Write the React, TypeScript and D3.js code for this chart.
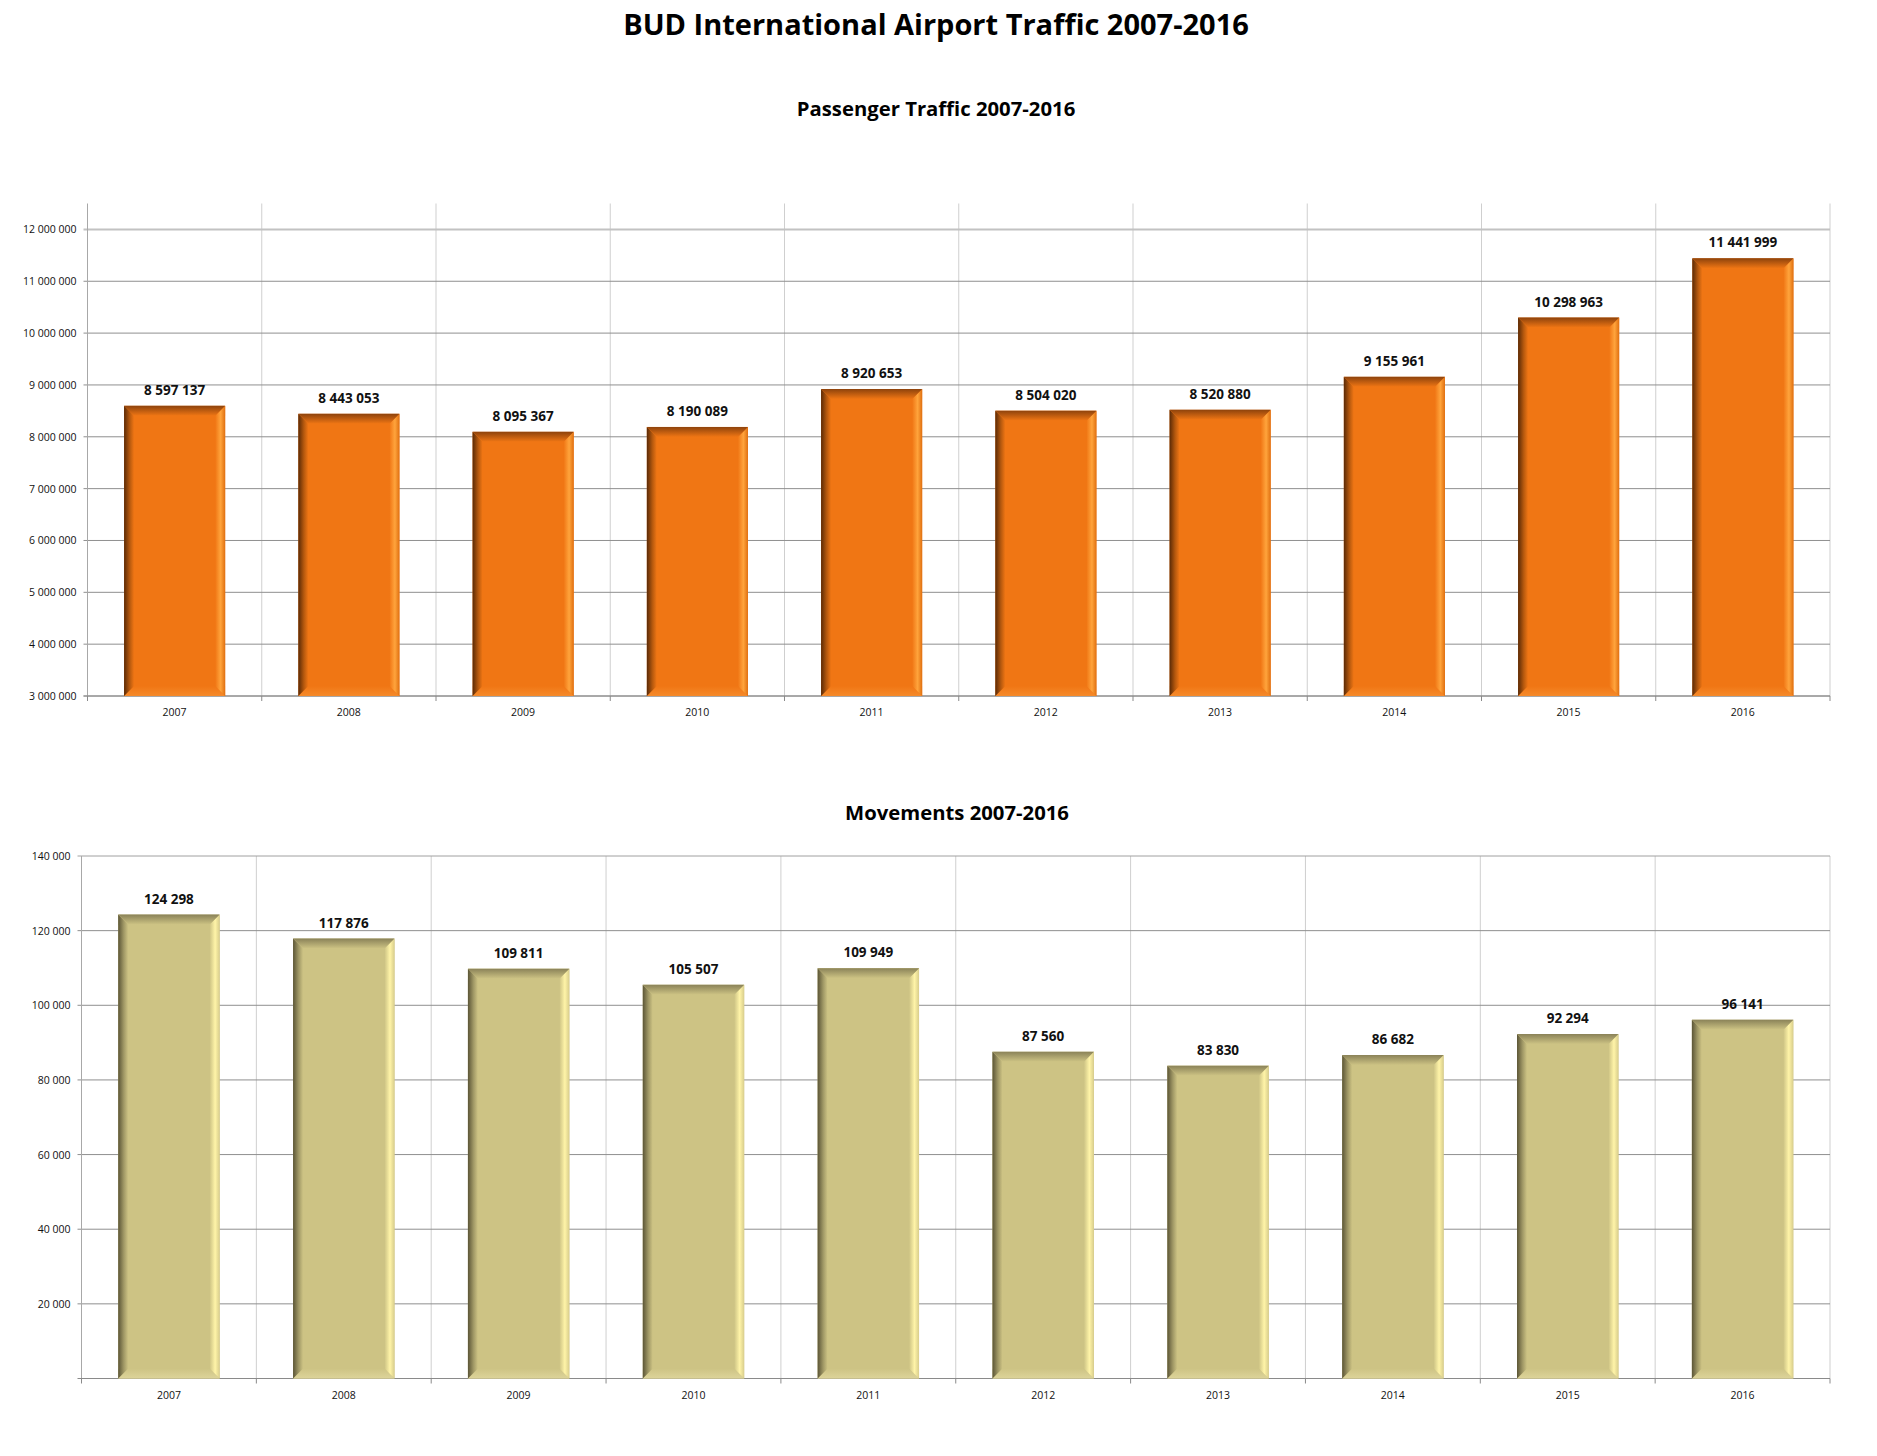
import React, { useEffect, useRef } from 'react';
import * as d3 from 'd3';

const years = ['2007', '2008', '2009', '2010', '2011', '2012', '2013', '2014', '2015', '2016'];
const passengers = [8597137, 8443053, 8095367, 8190089, 8920653, 8504020, 8520880, 9155961, 10298963, 11441999];
const movements = [124298, 117876, 109811, 105507, 109949, 87560, 83830, 86682, 92294, 96141];
const passengerTicks = [3e6, 4e6, 5e6, 6e6, 7e6, 8e6, 9e6, 10e6, 11e6, 12e6];
const movementTicks = [20000, 40000, 60000, 80000, 100000, 120000, 140000];

const FONT = '"Open Sans", "Noto Sans", sans-serif';
const fmt = d3.formatLocale({ decimal: ',', thousands: ' ', grouping: [3], currency: ['', ''] }).format(',d');

type Palette = { base: string; dark: string; top: string; light: string; edge: string; bottom: string };

const orange: Palette = { base: '#f07614', dark: '#5a2a06', top: '#8e430c', light: '#ffa43c', edge: '#e07010', bottom: '#f58a2a' };
const khaki: Palette = { base: '#cdc384', dark: '#5b5536', top: '#8a8258', light: '#fff4a8', edge: '#d8cd8c', bottom: '#ddd49a' };

const App: React.FC = () => {
  const svgRef = useRef<SVGSVGElement>(null);

  useEffect(() => {
    if (!svgRef.current) return;
    const svg = d3.select(svgRef.current).html('');
    const defs = svg.append('defs');

    svg.append('text')
      .attr('x', 936).attr('y', 35)
      .attr('text-anchor', 'middle')
      .attr('font-family', FONT).attr('font-weight', 700).attr('font-size', 29)
      .text('BUD International Airport Traffic 2007-2016');

    const drawChart = (opts: {
      id: string; title: string; titleX: number; titleY: number;
      left: number; right: number; top: number; bottom: number;
      domain: [number, number]; ticks: number[]; values: number[];
      pal: Palette; topLine: { color: string; width: number };
    }) => {
      const { id, pal } = opts;
      const g = svg.append('g');

      const grad = (name: string, horizontal: boolean, stops: [number, string][]) => {
        const lg = defs.append('linearGradient').attr('id', `${id}-${name}`)
          .attr('x1', 0).attr('y1', 0).attr('x2', horizontal ? 1 : 0).attr('y2', horizontal ? 0 : 1);
        stops.forEach(([o, c]) => lg.append('stop').attr('offset', o).attr('stop-color', c));
      };
      grad('left', true, [[0, pal.dark], [0.55, d3.interpolateRgb(pal.dark, pal.base)(0.6)], [1, pal.base]]);
      grad('right', true, [[0, pal.base], [0.55, pal.light], [1, pal.edge]]);
      grad('top', false, [[0, pal.top], [1, pal.base]]);
      grad('bottom', false, [[0, pal.base], [1, pal.bottom]]);

      g.append('text')
        .attr('x', opts.titleX).attr('y', opts.titleY)
        .attr('text-anchor', 'middle')
        .attr('font-family', FONT).attr('font-weight', 700).attr('font-size', 20.3)
        .text(opts.title);

      const x = d3.scaleBand<string>().domain(years).range([opts.left, opts.right])
        .paddingInner(0.42).paddingOuter(0.21);
      const y = d3.scaleLinear().domain(opts.domain).range([opts.bottom, opts.top]);
      const step = x.step();
      const bounds = years.map(yr => x(yr)! - step * 0.21).concat([opts.right]);

      // vertical gridlines at category boundaries
      g.selectAll('.vgrid').data(bounds.slice(1)).enter().append('line')
        .attr('x1', d => d).attr('x2', d => d)
        .attr('y1', opts.top).attr('y2', opts.bottom)
        .attr('stroke', '#cfcfcf').attr('stroke-width', 1);

      // horizontal gridlines
      const topTick = d3.max(opts.ticks)!;
      g.selectAll('.hgrid').data(opts.ticks).enter().append('line')
        .attr('x1', opts.left - 4).attr('x2', opts.right)
        .attr('y1', d => y(d)).attr('y2', d => y(d))
        .attr('stroke', d => (d === topTick ? opts.topLine.color : '#8f8f8f'))
        .attr('stroke-width', d => (d === topTick ? opts.topLine.width : 1));

      g.selectAll('.ytick').data(opts.ticks).enter().append('text')
        .attr('x', opts.left - 11).attr('y', d => y(d) + 4)
        .attr('text-anchor', 'end')
        .attr('font-family', FONT).attr('font-size', 10.5).attr('fill', '#111')
        .text(d => fmt(d));

      // axes
      g.append('line').attr('x1', opts.left).attr('x2', opts.left)
        .attr('y1', opts.top).attr('y2', opts.bottom + 4)
        .attr('stroke', '#a8a8a8');
      g.append('line').attr('x1', opts.left - 4).attr('x2', opts.right)
        .attr('y1', opts.bottom).attr('y2', opts.bottom)
        .attr('stroke', '#8a8a8a');
      g.selectAll('.xtick').data(bounds).enter().append('line')
        .attr('x1', d => d).attr('x2', d => d)
        .attr('y1', opts.bottom).attr('y2', opts.bottom + 5)
        .attr('stroke', '#8a8a8a');

      g.selectAll('.xlabel').data(years).enter().append('text')
        .attr('x', d => x(d)! + x.bandwidth() / 2).attr('y', opts.bottom + 20)
        .attr('text-anchor', 'middle')
        .attr('font-family', FONT).attr('font-size', 10.5).attr('fill', '#111')
        .text(d => d);

      // bevelled bars
      const b = 10;
      const data = years.map((yr, i) => ({ yr, v: opts.values[i] }));
      const bars = g.selectAll('.bar').data(data).enter().append('g');
      const pts = (arr: [number, number][]) => arr.map(p => p.join(',')).join(' ');
      bars.each(function (d) {
        const x0 = x(d.yr)!;
        const x1 = x0 + x.bandwidth();
        const yT = y(d.v);
        const yB = opts.bottom;
        const bar = d3.select(this);
        bar.append('rect').attr('x', x0).attr('y', yT).attr('width', x1 - x0).attr('height', yB - yT)
          .attr('fill', pal.base);
        bar.append('polygon').attr('points', pts([[x0, yB], [x1, yB], [x1 - b, yB - b], [x0 + b, yB - b]]))
          .attr('fill', `url(#${id}-bottom)`);
        bar.append('polygon').attr('points', pts([[x0, yT], [x0 + b, yT + b], [x0 + b, yB - b], [x0, yB]]))
          .attr('fill', `url(#${id}-left)`);
        bar.append('polygon').attr('points', pts([[x1, yT], [x1 - b, yT + b], [x1 - b, yB - b], [x1, yB]]))
          .attr('fill', `url(#${id}-right)`);
        bar.append('polygon').attr('points', pts([[x0, yT], [x1, yT], [x1 - b, yT + b], [x0 + b, yT + b]]))
          .attr('fill', `url(#${id}-top)`);
        bar.append('text')
          .attr('x', (x0 + x1) / 2).attr('y', yT - 11)
          .attr('text-anchor', 'middle')
          .attr('font-family', FONT).attr('font-weight', 700).attr('font-size', 13.5).attr('fill', '#111')
          .text(fmt(d.v));
      });
    };

    drawChart({
      id: 'pax', title: 'Passenger Traffic 2007-2016', titleX: 936, titleY: 116,
      left: 87.5, right: 1830, top: 203.5, bottom: 696,
      domain: [3e6, 12.5e6], ticks: passengerTicks, values: passengers, pal: orange,
      topLine: { color: '#c2c2c2', width: 2 },
    });

    drawChart({
      id: 'mov', title: 'Movements 2007-2016', titleX: 957, titleY: 820,
      left: 81.5, right: 1830, top: 856, bottom: 1378.5,
      domain: [0, 140000], ticks: movementTicks, values: movements, pal: khaki,
      topLine: { color: '#a0a0a0', width: 1 },
    });
  }, []);

  return (
    <svg
      ref={svgRef}
      width={1877}
      height={1456}
      style={{ position: 'absolute', left: 0, top: 0, background: '#fff' }}
    />
  );
};

export default App;
